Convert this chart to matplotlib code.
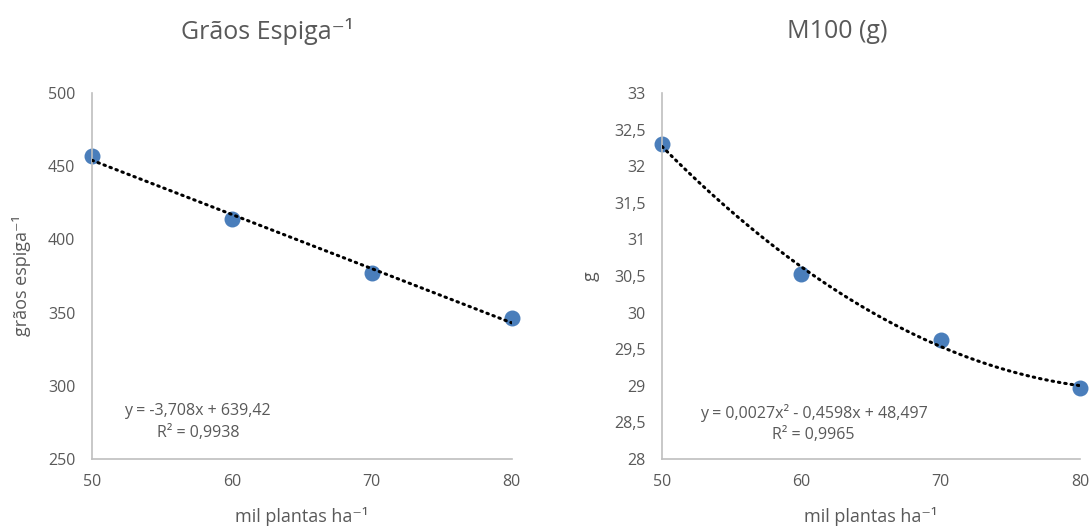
import numpy as np
import matplotlib
matplotlib.use("Agg")
import matplotlib.pyplot as plt

plt.rcParams['font.family'] = ['Open Sans', 'DejaVu Sans']

# dados
plantas = [50, 60, 70, 80]
graos_espiga = [457, 414, 377, 346]
m100 = [32.30, 30.53, 29.63, 28.97]

eq_graos = "y = -3,708x + 639,42"
r2_graos = "R² = 0,9938"
eq_m100 = "y = 0,0027x² - 0,4598x + 48,497"
r2_m100 = "R² = 0,9965"

cinza = "#595959"
azul = "#4A7EBB"

fig = plt.figure(figsize=(10.91, 5.31), dpi=100)
ax1 = fig.add_axes([0.0843, 0.1356, 0.3847, 0.6894])
ax2 = fig.add_axes([0.6068, 0.1356, 0.3832, 0.6894])

def estilo(ax, ylim, yticks, ylabels):
    ax.set_xlim(50, 80)
    ax.set_xticks([50, 60, 70, 80])
    ax.set_ylim(*ylim)
    ax.set_yticks(yticks)
    ax.set_yticklabels(ylabels)
    for s in ["top", "right"]:
        ax.spines[s].set_visible(False)
    for s in ["left", "bottom"]:
        ax.spines[s].set_color("#BFBFBF")
        ax.spines[s].set_linewidth(1.2)
    ax.tick_params(length=0, labelsize=11.5, colors=cinza, pad=12)
    ax.tick_params(axis="x", pad=11)

def tendencia(ax, x, y, grau):
    coef = np.polyfit(x, y, grau)
    xs = np.linspace(min(x), max(x), 200)
    ax.plot(xs, np.polyval(coef, xs), color="black", lw=2.2,
            linestyle=(0, (0.5, 1.6)), dash_capstyle="round", zorder=3)

# Grãos espiga
ax1.scatter(plantas, graos_espiga, s=110, color=azul, zorder=2, clip_on=False)
tendencia(ax1, plantas, graos_espiga, 1)
estilo(ax1, (250, 500), np.arange(250, 501, 50), [str(v) for v in range(250, 501, 50)])
ax1.set_ylabel("grãos espiga⁻¹", color=cinza, fontsize=13, labelpad=12)
ax1.text(0.252, 0.131, eq_graos, transform=ax1.transAxes, ha="center", va="center", fontsize=11.5, color=cinza)
ax1.text(0.254, 0.071, r2_graos, transform=ax1.transAxes, ha="center", va="center", fontsize=11.5, color=cinza)

# M100
ax2.scatter(plantas, m100, s=110, color=azul, zorder=2, clip_on=False)
tendencia(ax2, plantas, m100, 2)
yt = np.arange(28, 33.01, 0.5)
estilo(ax2, (28, 33), yt, [("%g" % v).replace(".", ",") for v in yt])
ax2.set_ylabel("g", color=cinza, fontsize=13, labelpad=10)
ax2.text(0.364, 0.126, eq_m100, transform=ax2.transAxes, ha="center", va="center", fontsize=11.5, color=cinza)
ax2.text(0.362, 0.066, r2_m100, transform=ax2.transAxes, ha="center", va="center", fontsize=11.5, color=cinza)

for ax in (ax1, ax2):
    ax.set_xlabel("mil plantas ha⁻¹", color=cinza, fontsize=13, labelpad=12)

fig.text(0.245, 0.94, "Grãos Espiga⁻¹", ha="center", va="center", fontsize=18, color=cinza)
fig.text(0.767, 0.94, "M100 (g)", ha="center", va="center", fontsize=18, color=cinza)

fig.savefig("out.png", dpi=100)
